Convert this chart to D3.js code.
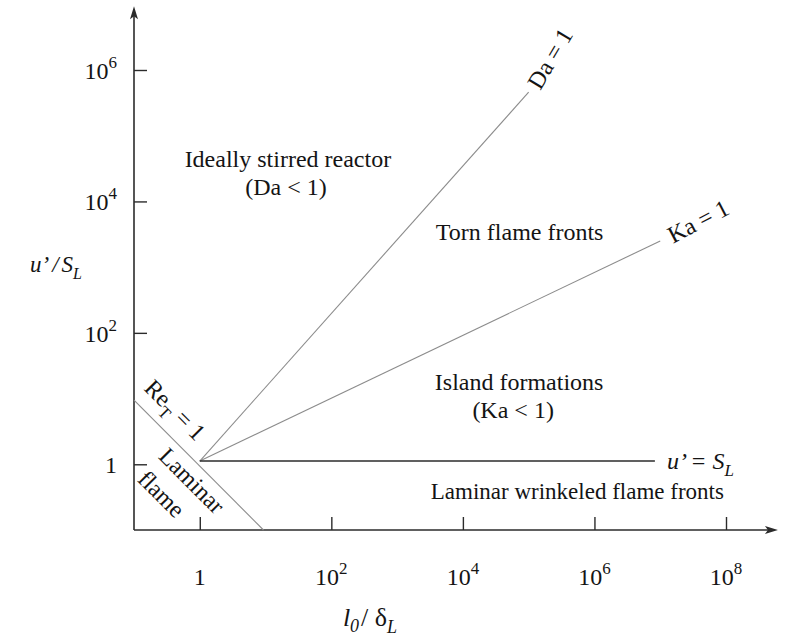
<!DOCTYPE html>
<html>
<head>
<meta charset="utf-8">
<script src="https://cdn.jsdelivr.net/npm/d3@7"></script>
<style>
  body { margin: 0; background: #fff; }
  svg { display: block; font-family: 'Liberation Serif', 'Times New Roman', serif; }
  text { fill: #141414; }
</style>
</head>
<body>
<script>
// tick values on both log axes
const xTicks = [1, 1e2, 1e4, 1e6, 1e8];
const yTicks = [1, 1e2, 1e4, 1e6];

// regime boundaries (l0/dL, u'/SL)
const boundaryNames = ['Re', 'Da', 'Ka', 'SL'];
const boundaryX = [[0.1, 9.3], [1, 1e5], [1, 1e7], [1, 8.3e6]];
const boundaryY = [[9.5, 0.1], [1.12, 4.6e5], [1.12, 2.5e3], [1.12, 1.12]];

// region captions, log10 of their anchor point
const regionText = [
  ['Ideally stirred reactor', 1.34, 4.52],
  ['(Da < 1)', 1.31, 4.095],
  ['Torn flame fronts', 4.863, 3.41],
  ['Island formations', 4.855, 1.129],
  ['(Ka < 1)', 4.764, 0.703],
  ['Laminar wrinkeled flame fronts', 5.74, -0.53],
];

const width = 798, height = 642;
const x = d3.scaleLog().domain([0.1, 1e8]).range([134, 726]);
const y = d3.scaleLog().domain([0.1, 1e6]).range([530, 70]);
const xEnd = 10 ** 8.79, yEnd = 10 ** 6.97;

const svg = d3.select('body').append('svg')
  .attr('width', width)
  .attr('height', height);

const axisColor = '#2b2b2b';

// ticks through d3 axes, labels drawn separately for superscripts
const gx = svg.append('g')
  .attr('transform', `translate(0, ${y(0.1)})`)
  .call(d3.axisBottom(x).tickValues(xTicks).tickSize(-13).tickFormat(''));
const gy = svg.append('g')
  .attr('transform', `translate(${x(0.1)}, 0)`)
  .call(d3.axisLeft(y).tickValues(yTicks).tickSize(-13).tickFormat(''));
[gx, gy].forEach(g => {
  g.select('.domain').remove();
  g.selectAll('line').attr('stroke', axisColor).attr('stroke-width', 1.4);
});

// axis lines with arrowheads
svg.append('line')
  .attr('x1', x(0.1)).attr('y1', y(0.1)).attr('x2', x(xEnd) - 8).attr('y2', y(0.1))
  .attr('stroke', axisColor).attr('stroke-width', 1.6);
svg.append('line')
  .attr('x1', x(0.1)).attr('y1', y(0.1)).attr('x2', x(0.1)).attr('y2', y(yEnd) + 8)
  .attr('stroke', axisColor).attr('stroke-width', 1.6);
svg.append('path')
  .attr('d', `M${x(xEnd)},${y(0.1)} l-13,-4 l3,4 l-3,4 Z`)
  .attr('fill', axisColor);
svg.append('path')
  .attr('d', `M${x(0.1)},${y(yEnd)} l-4,13 l4,-3 l4,3 Z`)
  .attr('fill', axisColor);

function powerLabel(sel, v) {
  const e = Math.round(Math.log10(v));
  if (e === 0) { sel.append('tspan').text('1'); return; }
  sel.append('tspan').text('10');
  sel.append('tspan').attr('dy', -11).attr('font-size', 17).text(e);
}

svg.append('g').selectAll('text')
  .data(xTicks)
  .join('text')
  .attr('x', d => x(d))
  .attr('y', y(0.1) + 55)
  .attr('text-anchor', 'middle')
  .attr('font-size', 24)
  .each(function(d) { powerLabel(d3.select(this), d); });

svg.append('g').selectAll('text')
  .data(yTicks)
  .join('text')
  .attr('x', x(0.1) - 17)
  .attr('y', d => y(d) + 9)
  .attr('text-anchor', 'end')
  .attr('font-size', 24)
  .each(function(d) { powerLabel(d3.select(this), d); });

// axis titles
const xt = svg.append('text')
  .attr('x', 370).attr('y', 626)
  .attr('text-anchor', 'middle').attr('font-size', 26);
xt.append('tspan').attr('font-style', 'italic').text('l');
xt.append('tspan').attr('font-style', 'italic').attr('font-size', 18).attr('dy', 6).text('0');
xt.append('tspan').attr('dy', -6).attr('dx', 2).text('/ δ');
xt.append('tspan').attr('font-style', 'italic').attr('font-size', 18).attr('dy', 7).text('L');

const yt = svg.append('text')
  .attr('x', 30).attr('y', 272)
  .attr('font-size', 23).attr('font-style', 'italic');
yt.append('tspan').text('u’');
yt.append('tspan').attr('dx', 3).text('/');
yt.append('tspan').attr('dx', 3).text('S');
yt.append('tspan').attr('font-size', 16).attr('dy', 7).text('L');

// boundary lines
const line = d3.line().x(d => x(d[0])).y(d => y(d[1]));
boundaryNames.forEach((name, i) => {
  svg.append('path')
    .attr('d', line(d3.zip(boundaryX[i], boundaryY[i])))
    .attr('fill', 'none')
    .attr('stroke', name === 'SL' ? axisColor : '#8c8c8c')
    .attr('stroke-width', name === 'SL' ? 1.5 : 1.1);
});

function geom(i) {
  const x0 = x(boundaryX[i][0]), y0 = y(boundaryY[i][0]);
  const x1 = x(boundaryX[i][1]), y1 = y(boundaryY[i][1]);
  const len = Math.hypot(x1 - x0, y1 - y0);
  return {x0, y0, x1, y1, ux: (x1 - x0) / len, uy: (y1 - y0) / len,
          angle: Math.atan2(y1 - y0, x1 - x0) * 180 / Math.PI};
}

// labels at the end of Da and Ka lines (text leans a little steeper than the line)
[[1, 'Da = 1', 7, -11], [2, 'Ka = 1', 10, -2]].forEach(([i, label, gap, tilt]) => {
  const g = geom(i);
  svg.append('text')
    .attr('transform', `translate(${g.x1 + g.ux * gap},${g.y1 + g.uy * gap}) rotate(${g.angle + tilt})`)
    .attr('dy', '0.33em')
    .attr('font-size', 24)
    .text(label);
});

// labels along the Re_T = 1 line
const re = geom(0);
function alongRe(t, off) {
  return `translate(${re.x0 + re.ux * t},${re.y0 + re.uy * t}) rotate(${re.angle}) translate(0,${off})`;
}
const reLabel = svg.append('text')
  .attr('transform', alongRe(36, -14))
  .attr('text-anchor', 'middle')
  .attr('font-size', 24);
reLabel.append('tspan').text('Re');
reLabel.append('tspan').attr('font-size', 17).attr('dy', 7).text('T');
reLabel.append('tspan').attr('dy', -7).text(' = 1');

svg.append('text')
  .attr('transform', alongRe(98, 24))
  .attr('text-anchor', 'middle').attr('font-size', 24)
  .text('Laminar');
svg.append('text')
  .attr('transform', alongRe(86, 55))
  .attr('text-anchor', 'middle').attr('font-size', 24)
  .text('flame');

// u' = S_L label
const sl = geom(3);
const slLabel = svg.append('text')
  .attr('x', sl.x1 + 12).attr('y', sl.y1 + 8)
  .attr('font-size', 24).attr('font-style', 'italic');
slLabel.append('tspan').text('u’ = S');
slLabel.append('tspan').attr('font-size', 17).attr('dy', 7).text('L');

// region captions
svg.append('g').selectAll('text')
  .data(regionText)
  .join('text')
  .attr('x', d => x(10 ** d[1]))
  .attr('y', d => y(10 ** d[2]))
  .attr('text-anchor', 'middle')
  .attr('font-size', d => d[0].length > 25 ? 23 : 24)
  .text(d => d[0]);
</script>
</body>
</html>
